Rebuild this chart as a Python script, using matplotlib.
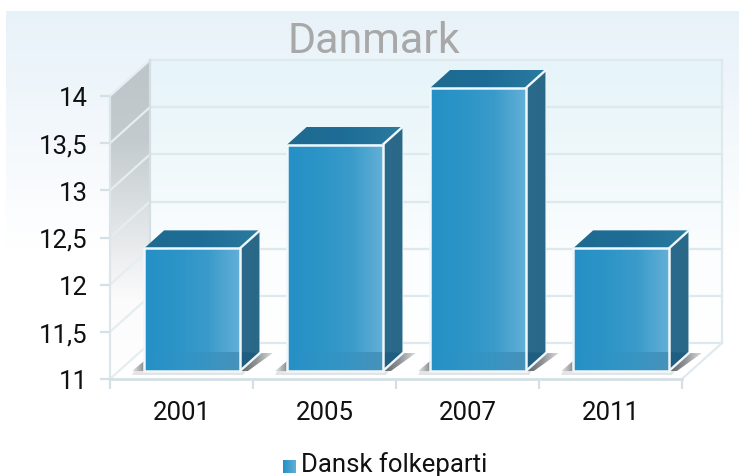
import numpy as np
import matplotlib
matplotlib.use("Agg")
import matplotlib.pyplot as plt
from matplotlib.patches import Polygon, Rectangle
from matplotlib.transforms import Affine2D, IdentityTransform
from matplotlib.colors import LinearSegmentedColormap as LSC

title = "Danmark"
categories = ["2001", "2005", "2007", "2011"]
series_name = "Dansk folkeparti"
values = [12.3, 13.4, 14.0, 12.3]
y_ticks = [11, 11.5, 12, 12.5, 13, 13.5, 14]
y_labels = ["11", "11,5", "12", "12,5", "13", "13,5", "14"]

W, H = 739, 477
plt.rcParams["font.family"] = ["Roboto", "DejaVu Sans"]
fig = plt.figure(figsize=(W / 100, H / 100), dpi=100)

# full-figure pixel layer for background
bg = fig.add_axes([0, 0, 1, 1], zorder=0)
bg.axis("off")
g = np.linspace(0, 1, 256)[:, None]
bg.imshow(g, extent=[6, W, 250, 12], aspect="auto", zorder=0,
          cmap=LSC.from_list("b", ["#e7f2f8", "#f3f8fc", "#ffffff"]))
bg.set_xlim(0, W); bg.set_ylim(H, 0)

# front plane axes
L, R, T, B = 110, 682, 97, 380
ax = fig.add_axes([L / W, 1 - B / H, (R - L) / W, (B - T) / H], zorder=1)
ax.set_xlim(-0.5, 3.5); ax.set_ylim(11, 14)
ax.patch.set_alpha(0)
for s in ax.spines.values():
    s.set_visible(False)
identity = IdentityTransform()
ppy = (B - T) / 3.0
ppx = (R - L) / 4.0

def shift(dx, dy):
    """dx, dy in display pixels; dy positive is up."""
    return ax.transData + Affine2D().translate(dx, dy)

DX, DY = 40, 36   # wall depth in pixels
back = shift(DX, DY)

def set_clip(im, clip=None):
    im.set_clip_box(fig.bbox)
    if clip is not None:
        im.set_clip_path(clip)
        im.set_clip_box(fig.bbox)
    else:
        im.set_clip_path(None)

def grad(colors, extent, transform, clip=None, horiz=False, z=1):
    a = np.linspace(0, 1, 256)
    a = a[None, :] if horiz else a[:, None]
    im = ax.imshow(a, extent=extent, aspect="auto", origin="upper",
                   cmap=LSC.from_list("g", colors), transform=transform, zorder=z)
    set_clip(im, clip)
    return im

def clip_poly(pts):
    p = Polygon(pts, closed=True, transform=identity, fc="none", ec="none", zorder=0, clip_on=False)
    ax.add_patch(p)
    return p

x0, x1 = -0.5, 3.5
px = ax.transData
# back wall
grad(["#e6f4f9", "#eff8fb", "#fbfdfe", "#ffffff"], [x0, x1, 11, 14], back, z=1)
# left wall
wall = clip_poly([px.transform((x0, 11)), back.transform((x0, 11)),
                  back.transform((x0, 14)), px.transform((x0, 14))])
grad(["#bcc5c8", "#c4cbce", "#dfe3e5", "#fbfbfb", "#ffffff"],
     [x0, x0 + DX / ppx, 11, 14 + DY / ppy], ax.transData, clip=wall, z=2)

# gridlines: back wall and left wall
gc = "#dde9ed"
for t in y_ticks:
    ax.plot([x0, x1], [t, t], transform=back, color=gc, lw=1.6, zorder=3, clip_on=False)
    a = px.transform((x0, t)); b = back.transform((x0, t))
    ax.plot([a[0], b[0]], [a[1], b[1]], transform=identity, color="#e4edf0", lw=1.6, zorder=3, clip_on=False)
ax.plot([x0, x0], [11, 14], transform=back, color="#d3dfe4", lw=1.6, zorder=3, clip_on=False)
ax.plot([x1, x1], [11, 14], transform=back, color=gc, lw=1.6, zorder=3, clip_on=False)
a = px.transform((x1, 11)); b = back.transform((x1, 11))
ax.plot([a[0], b[0]], [a[1], b[1]], transform=identity, color="#e0eaee", lw=1.6, zorder=3, clip_on=False)

# bars
OX, OY = 10.5, 8      # bar plane offset from the front plane
bdx, bdy = 20, 18     # bar depth in pixels
bw = 0.335
face = ["#2590c6", "#2c94c7", "#3a9bca", "#63afd7"]
bar_tr = shift(OX, OY)
edge = "#f0f7fa"

def pix_grad(colors, x_a, x_b, y_a, y_b, clip, horiz=True, z=4):
    a = np.linspace(0, 1, 128)
    a = a[None, :] if horiz else a[:, None]
    im = ax.imshow(a, extent=[x_a, x_b, y_a, y_b], aspect="auto", origin="lower",
                   cmap=LSC.from_list("p", colors), transform=identity, zorder=z)
    set_clip(im, clip)
    return im

for i, v in enumerate(values):
    xa, xb = i - bw, i + bw
    p00 = bar_tr.transform((xa, 11)); p10 = bar_tr.transform((xb, 11))
    p01 = bar_tr.transform((xa, v)); p11 = bar_tr.transform((xb, v))
    off = np.array([bdx, bdy])
    # floor band and shadows
    ax.add_patch(Polygon([p00 + (-10, 0), p10 + (6, 0), p10 + (3, -4), p00 + (-12, -4)], closed=True,
                         transform=identity, fc="#e3e4e5", ec="none", zorder=4, clip_on=False))
    rs = clip_poly([p10, p10 + off, p10 + off + (13, 0), p10 + (8, 0)])
    pix_grad(["#5f6468", "#8f9396", "#dcdee0"], p10[0], p10[0] + off[0] + 13, p10[1], p10[1] + off[1], rs)
    ls = clip_poly([p00 + (-12, 0), p00 + (0, 10), p00])
    pix_grad(["#e8e8e8", "#8a8d90"], p00[0] - 12, p00[0], p00[1], p00[1] + 10, ls)
    # side
    sd = clip_poly([p10, p11, p11 + off, p10 + off])
    pix_grad(["#2b6a8b", "#2a6888"], p11[0], p11[0] + bdx, p10[1], p11[1] + bdy, sd, z=5)
    low = clip_poly([p10, p10 + (0, 19), p10 + off, p10 + off])
    pix_grad(["#215f82", "#1f5d80"], p10[0], p10[0] + bdx, p10[1], p10[1] + 20, low, z=5.1)
    ax.add_patch(Polygon([p10, p11, p11 + off, p10 + off], closed=True, transform=identity,
                         fc="none", ec=edge, lw=0.6, zorder=5.2, clip_on=False))
    # top
    tp = clip_poly([p01, p11, p11 + off, p01 + off])
    pix_grad(["#1f6a90", "#1e6d97", "#2b7a9f"], p01[0], p11[0] + bdx, p01[1], p01[1] + bdy, tp, z=5)
    ax.plot([p11[0], p11[0] + bdx], [p11[1], p11[1] + bdy], transform=identity,
            color=edge, lw=1.7, zorder=6, clip_on=False)
    ax.plot([p10[0], p10[0] + bdx], [p10[1], p10[1] + bdy], transform=identity,
            color=edge, lw=1.7, zorder=6, clip_on=False)
    # front
    grad(face, [xa, xb, 11, v], bar_tr, horiz=True, z=6)
    rb = 11 + 19 / ppy
    a = np.linspace(0, 1, 64)[None, :]
    im = ax.imshow(a, extent=[xa, xb, 11, rb], aspect="auto", origin="upper", transform=bar_tr, zorder=6.5,
                   cmap=LSC.from_list("r", ["#2590c6", "#3295c5", "#4792bb"]))
    set_clip(im)
    ax.add_patch(Rectangle((xa, 11), 2 * bw, v - 11, transform=bar_tr, fc="none", ec=edge, lw=1.8,
                           zorder=7, clip_on=False))
ax.set_xlim(-0.5, 3.5); ax.set_ylim(11, 14)

# axes + ticks
ax.set_xticks(range(len(categories)), categories)
ax.set_yticks(y_ticks, y_labels)
ax.set_xticks([-0.5, 0.5, 1.5, 2.5, 3.5], minor=True)
ax.tick_params(axis="x", which="major", length=0, pad=15, labelsize=18.5, labelcolor="#111111")
ax.tick_params(axis="x", which="minor", length=7, width=1.6, color="#d4e0e6")
ax.tick_params(axis="y", length=7, width=1.6, color="#d4e0e6", pad=9, labelsize=18.5, labelcolor="#111111")
ax.spines["left"].set_visible(True); ax.spines["left"].set_color("#dbe5ea"); ax.spines["left"].set_linewidth(1.6)
ax.spines["bottom"].set_visible(True); ax.spines["bottom"].set_color("#d4e0e6"); ax.spines["bottom"].set_linewidth(2)
ax.spines["left"].set_zorder(8); ax.spines["bottom"].set_zorder(8)

# title
fig.text(374 / W, 1 - 53 / H, title, ha="center", va="baseline", fontsize=31, color="#a8a8a8", zorder=10)

# legend
lax = fig.add_axes([283 / W, 1 - 474 / H, 13 / W, 13 / H], zorder=2)
lax.imshow(np.linspace(0, 1, 32)[None, :], aspect="auto", cmap=LSC.from_list("l", ["#2590c6", "#63afd7"]))
lax.axis("off")
fig.text(301 / W, 1 - 472 / H, series_name, ha="left", va="baseline", fontsize=18.5, color="#111111", zorder=10)

fig.savefig("out.png", dpi=100)
